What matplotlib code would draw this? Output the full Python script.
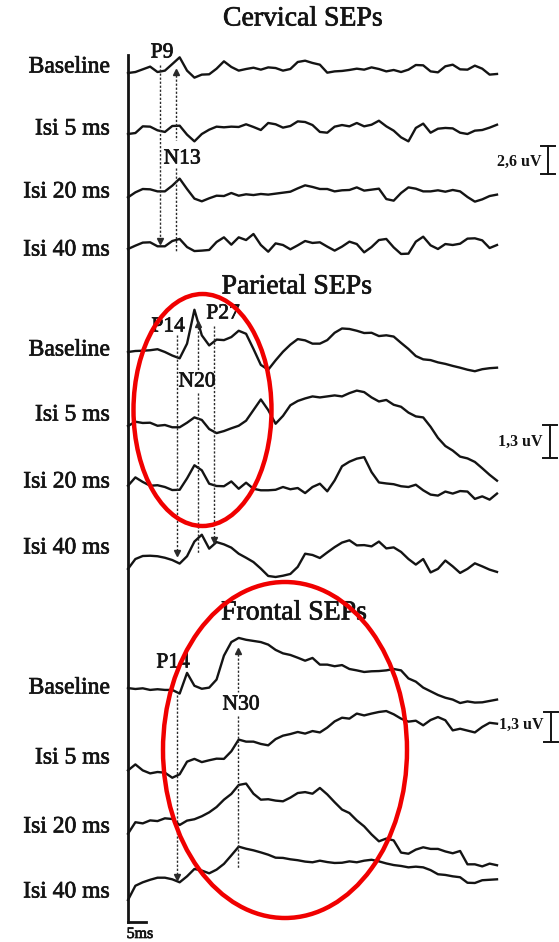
import numpy as np
import matplotlib
matplotlib.use("Agg")
import matplotlib.pyplot as plt
import matplotlib.patheffects as pe
from matplotlib.patches import Ellipse

plt.rcParams['font.family'] = ['Liberation Serif', 'DejaVu Serif']

# ---------------- data (µV deflection, sampled every 2 ms, 0-100 ms) ----------------
row_labels = ["Baseline", "Isi 5 ms", "Isi 20 ms", "Isi 40 ms"]
panel_titles = ["Cervical SEPs", "Parietal SEPs", "Frontal SEPs"]
sample_step_ms = 2

cerv_baseline = [0, 0.09, 0.34, 0.59, 0.09, 0.22, 0.83, 1.45, 0.22, -0.43, -0.15, -0.12, 0.40, 1.08, 0.56,
                 0.22, 0.37, 0.49, 0.31, 0.52, 0.46, 0.22, 0.37, 1.02, 1.14, 0.93, 0.77, 0.03, 0.15, 0.19,
                 0.28, 0.40, 0.31, 0.52, 0.37, 0.15, 0.28, 0.09, 0.31, 0.74, 0.71, 0.15, 0.06, 0.62, 0.77,
                 0.34, 0.31, 0.68, 0.40, -0.15, -0.09]
cerv_isi5 = [0, 0.09, 0.71, 0.68, 0.34, 0.19, 0.74, 0.77, -0.06, -0.68, 0, 0.40, 0.68, 0.62, 0.68, 0.65,
             0.90, 0.65, 0.37, 1.02, 0.90, 0.59, 0.74, 1.17, 1.11, 0.83, 0.19, 0.12, 0.68, 0.83, 0.71, 1.02,
             0.71, 0.86, 1.23, 0.71, 0.31, -0.31, -0.68, 0.56, 0.96, 0.12, 0.49, 0.56, 0.52, 0.12, 0, 0.31,
             0.37, 0.59, 0.86]
cerv_isi20 = [-0.40, 0.06, 0.37, 0.34, 0.15, 0.15, 0.68, 1.33, 0.37, -0.52, -0.77, -0.49, -0.25, -0.28, 0,
              -0.25, -0.12, -0.19, -0.09, -0.15, -0.06, 0.03, 0.12, 0.43, 0.71, 0.56, 0.37, 0.37, 0.15, 0.25,
              0.28, 0.52, 0.22, 0.31, 0.40, -0.56, -0.71, 0, 0.52, 0.40, 0.15, 0.15, 0.25, 0.12, 0.28, 0.15,
              -0.37, -0.80, -0.59, -0.28, -0.15]
cerv_isi40 = [-0.37, -0.06, 0.22, 0.25, -0.12, -0.12, 0.37, 0.56, -0.19, -0.56, -0.52, -0.46, 0.28, 0.71,
              0.03, 0.71, 0.46, 1.02, 0, -0.62, 0.15, 0, -0.40, -0.03, 0.37, 0.19, 0.25, -0.15, -0.52, -0.15,
              0.31, 0.09, -0.68, -0.19, 0.46, 0.56, -0.22, -0.83, -0.80, 0.31, 0.77, -0.03, -0.37, 0.09, 0,
              0.12, 0.59, 0.62, 0.43, -0.28, 0]

par_baseline = [0, 0.04, 0.05, 0.07, 0.11, 0, -0.14, -0.25, 0.33, 1.67, 0.66, 0.26, 0.49, 0.47, 0.59, 0.84,
                0.72, 0.12, -0.51, -0.70, -0.33, 0.01, 0.29, 0.51, 0.46, 0.33, 0.33, 0.47, 0.76, 0.93, 0.91,
                0.84, 0.75, 0.76, 0.63, 0.66, 0.61, 0.36, 0.12, -0.16, -0.29, -0.32, -0.41, -0.47, -0.55,
                -0.62, -0.70, -0.76, -0.68, -0.64, -0.62]
par_isi5 = [-0.04, 0.13, 0.08, 0.09, -0.03, 0, -0.09, -0.09, 0.09, 0.30, 0.20, -0.16, -0.32, -0.24, -0.13,
            -0.03, 0.17, 0.59, 1.01, 0.59, 0.05, 0.36, 0.78, 0.95, 1.05, 1.13, 1.09, 1.13, 1.17, 1.13, 1.26,
            1.36, 1.30, 1.09, 0.93, 0.99, 0.80, 0.72, 0.49, 0.34, 0.30, -0.07, -0.51, -0.83, -1.01, -1.25,
            -1.32, -1.46, -1.71, -1.97, -2.20]
par_isi20 = [0.05, 0.38, 0.20, 0.05, 0.07, 0, -0.12, -0.11, 0.34, 0.86, 0.66, 0.13, 0.04, 0.03, 0.22, -0.07,
             0.17, -0.07, -0.13, -0.13, -0.11, 0, -0.09, -0.04, -0.24, 0, 0.13, -0.17, 0.26, 0.82, 1.0,
             1.12, 1.18, 0.59, 0.18, 0.14, 0.11, 0.03, 0, 0.09, -0.13, -0.30, -0.34, -0.18, -0.26, -0.16,
             -0.18, -0.47, -0.37, -0.50, -0.26]
par_isi40 = [-0.47, -0.08, 0.04, 0.05, 0.03, -0.03, -0.12, -0.26, 0.03, 0.61, 0.88, 0.33, 0.59, 0.50, 0.37,
             0.13, -0.03, -0.20, -0.46, -0.75, -0.79, -0.74, -0.67, -0.39, 0.13, 0.08, -0.04, 0.18, 0.39,
             0.57, 0.66, 0.46, 0.47, 0.42, 0.61, 0.34, 0.38, 0.20, -0.08, -0.30, -0.08, -0.61, -0.47, -0.14,
             -0.37, -0.63, -0.47, -0.25, -0.37, -0.50, -0.59]

front_baseline = [0.04, 0, 0.03, -0.04, -0.01, -0.04, -0.04, -0.20, 0.70, 0.14, 0.01, 0.06, 0.41, 1.45, 2.04,
                  2.22, 2.14, 2.09, 2.04, 1.93, 1.70, 1.55, 1.48, 1.36, 1.23, 1.35, 1.06, 1.06, 0.99, 1.04,
                  0.87, 0.81, 0.74, 0.77, 0.78, 0.81, 0.87, 0.81, 0.46, 0.32, 0.06, -0.10, -0.26, -0.38,
                  -0.46, -0.61, -0.54, -0.59, -0.58, -0.52, -0.46]
front_isi5 = [0.07, 0.33, 0.07, -0.06, 0, -0.03, -0.25, -0.10, 0.45, 0.57, 0.43, 0.51, 0.58, 0.57, 0.90, 1.41,
              1.32, 1.32, 1.22, 1.16, 1.43, 1.58, 1.65, 1.74, 1.67, 1.78, 1.72, 1.93, 2.20, 2.36, 2.32, 2.54,
              2.46, 2.54, 2.61, 2.65, 2.51, 2.32, 2.19, 2.23, 2.03, 2.26, 2.39, 2.25, 1.81, 1.88, 1.80, 1.72,
              1.96, 2.14, 2.10]
front_isi20 = [-0.51, -0.01, -0.06, 0.07, 0.04, 0.16, 0.13, -0.13, 0.06, 0.12, 0.25, 0.42, 0.65, 0.97, 1.22,
               1.61, 1.67, 1.23, 0.97, 0.99, 0.93, 0.90, 1.06, 1.26, 1.30, 1.23, 1.48, 1.20, 0.86, 0.54, 0.39,
               0.07, -0.19, -0.54, -0.84, -0.72, -0.80, -1.33, -1.38, -1.20, -1.10, -1.17, -1.17, -1.28,
               -1.36, -1.26, -1.84, -1.84, -1.93, -1.81, -1.88]
front_isi40 = [-0.87, -0.25, -0.10, 0.01, 0.10, 0.10, 0.03, -0.10, 0.16, 0.48, 0.41, 0.29, 0.45, 0.70, 1.07,
               1.45, 1.36, 1.29, 1.20, 1.10, 0.97, 0.96, 0.90, 0.86, 0.80, 0.77, 0.84, 0.78, 0.74, 0.75, 0.81,
               0.77, 0.84, 0.88, 0.81, 0.72, 0.65, 0.61, 0.55, 0.58, 0.55, 0.43, 0.25, 0.22, 0.16, 0.12,
               -0.12, -0.13, -0.01, 0.01, 0.03]

cervical = [cerv_baseline, cerv_isi5, cerv_isi20, cerv_isi40]
parietal = [par_baseline, par_isi5, par_isi20, par_isi40]
frontal = [front_baseline, front_isi5, front_isi20, front_isi40]

scale_values_uV = [2.6, 1.3, 1.3]
scale_labels = ["2,6 uV", "1,3 uV", "1,3 uV"]
time_scale_ms = 5
time_scale_label = "5ms"

# peak markers: (label, latency ms)
cerv_peaks = [("P9", 8.7), ("N13", 13.0)]
par_peaks = [("P14", 13.2), ("N20", 18.9), ("P27", 23.4)]
front_peaks = [("P14", 13.2), ("N30", 29.9)]

# ---------------- layout ----------------
W, H = 559, 942
X0, PXMS = 128, 3.69
fig = plt.figure(figsize=(W / 100, H / 100), dpi=100)
ax = fig.add_axes([0, 0, 1, 1])
ax.set_xlim(-X0 / PXMS, (W - X0) / PXMS)
ax.set_ylim(H, 0)
ax.axis('off')


def px(x):
    return (x - X0) / PXMS


INK = '#141414'
THICK = [pe.withStroke(linewidth=0.5, foreground=INK)]

panels = [
    dict(traces=cervical, base=[73, 134, 193, 245], gain=10.8, title=(303, 19),
         labels_y=[67, 129, 192, 250]),
    dict(traces=parietal, base=[352, 425, 487, 557], gain=25.3, title=(297, 287),
         labels_y=[350, 415, 482, 548]),
    dict(traces=frontal, base=[689, 772, 822, 880], gain=23.0, title=(294, 613),
         labels_y=[688, 758, 827, 892]),
]

for p_i, p in enumerate(panels):
    ax.text(px(p['title'][0]), p['title'][1], panel_titles[p_i], ha='center', va='center',
            fontsize=20, color=INK, path_effects=THICK)
    for r, tr in enumerate(p['traces']):
        v = np.asarray(tr, dtype=float)
        t = np.arange(len(v)) * sample_step_ms
        ax.plot(t, p['base'][r] - v * p['gain'], color=INK, lw=1.7, solid_joinstyle='round')
        ax.text(px(110), p['labels_y'][r], row_labels[r], ha='right', va='center',
                fontsize=17, color=INK, path_effects=THICK)

# vertical axis line and 5 ms bar
ax.plot([0, 0], [55, 922], color=INK, lw=2.0)
ax.plot([0, time_scale_ms], [922, 922], color=INK, lw=2.0)
ax.text(px(140), 934, time_scale_label, ha='center', va='center', fontsize=11.5, color=INK,
        path_effects=THICK)

# amplitude scale bars
bars = [(541, 548, 146, 162), (542, 550, 425, 442), (543, 551, 712, 725)]
for i, (tx, bx, top, ty) in enumerate(bars):
    g = panels[i]['gain']
    bot = top + scale_values_uV[i] * g
    ax.plot([px(bx), px(bx)], [top, bot], color=INK, lw=1.4)
    ax.plot([px(bx - 7), px(bx + 7)], [top, top], color=INK, lw=1.4)
    ax.plot([px(bx - 7), px(bx + 7)], [bot, bot], color=INK, lw=1.4)
    ax.text(px(tx), ty, scale_labels[i], ha='right', va='center', fontsize=11.5,
            fontweight='bold', color=INK)

DOT = dict(color='#2a2a2a', lw=1.0, ls=(0, (1.6, 1.3)))


def vline(t, segs, arrow_y=None, arrow='v'):
    for y0, y1 in segs:
        ax.plot([t, t], [y0, y1], **DOT)
    if arrow_y is not None:
        ax.plot([t], [arrow_y], marker=arrow, ms=4.5, color='#2a2a2a', lw=0)


PK = dict(ha='center', va='center', fontsize=15.5, color=INK, path_effects=THICK)

# cervical
vline(cerv_peaks[0][1], [(65, 241)], 241, 'v')
vline(cerv_peaks[1][1], [(71, 140), (168, 252)], 72, '^')
ax.text(px(162), 53, cerv_peaks[0][0], **PK)
ax.text(px(182), 159, cerv_peaks[1][0], **PK)

# parietal
vline(par_peaks[0][1], [(335, 553)], 553, 'v')
vline(par_peaks[1][1], [(323, 371), (393, 553)], 324, '^')
vline(par_peaks[2][1], [(326, 540)], 540, 'v')
ax.text(px(168), 327, par_peaks[0][0], **PK)
ax.text(px(197), 382, par_peaks[1][0], **PK)
ax.text(px(223), 314, par_peaks[2][0], **PK)

# frontal
vline(front_peaks[0][1], [(695, 877)], 877, 'v')
vline(front_peaks[1][1], [(650, 692), (716, 868)], 651, '^')
ax.text(px(173), 663, front_peaks[0][0], **PK)
ax.text(px(241), 705, front_peaks[1][0], **PK)

# red highlight ellipses
RED = '#f00000'
for cx, cy, w, h in [(202.5, 410, 138, 232), (285, 750, 244, 336)]:
    ax.add_patch(Ellipse((px(cx), cy), w / PXMS, h, fill=False, edgecolor=RED, lw=3.2, zorder=5))

fig.savefig("out.png", dpi=100)
